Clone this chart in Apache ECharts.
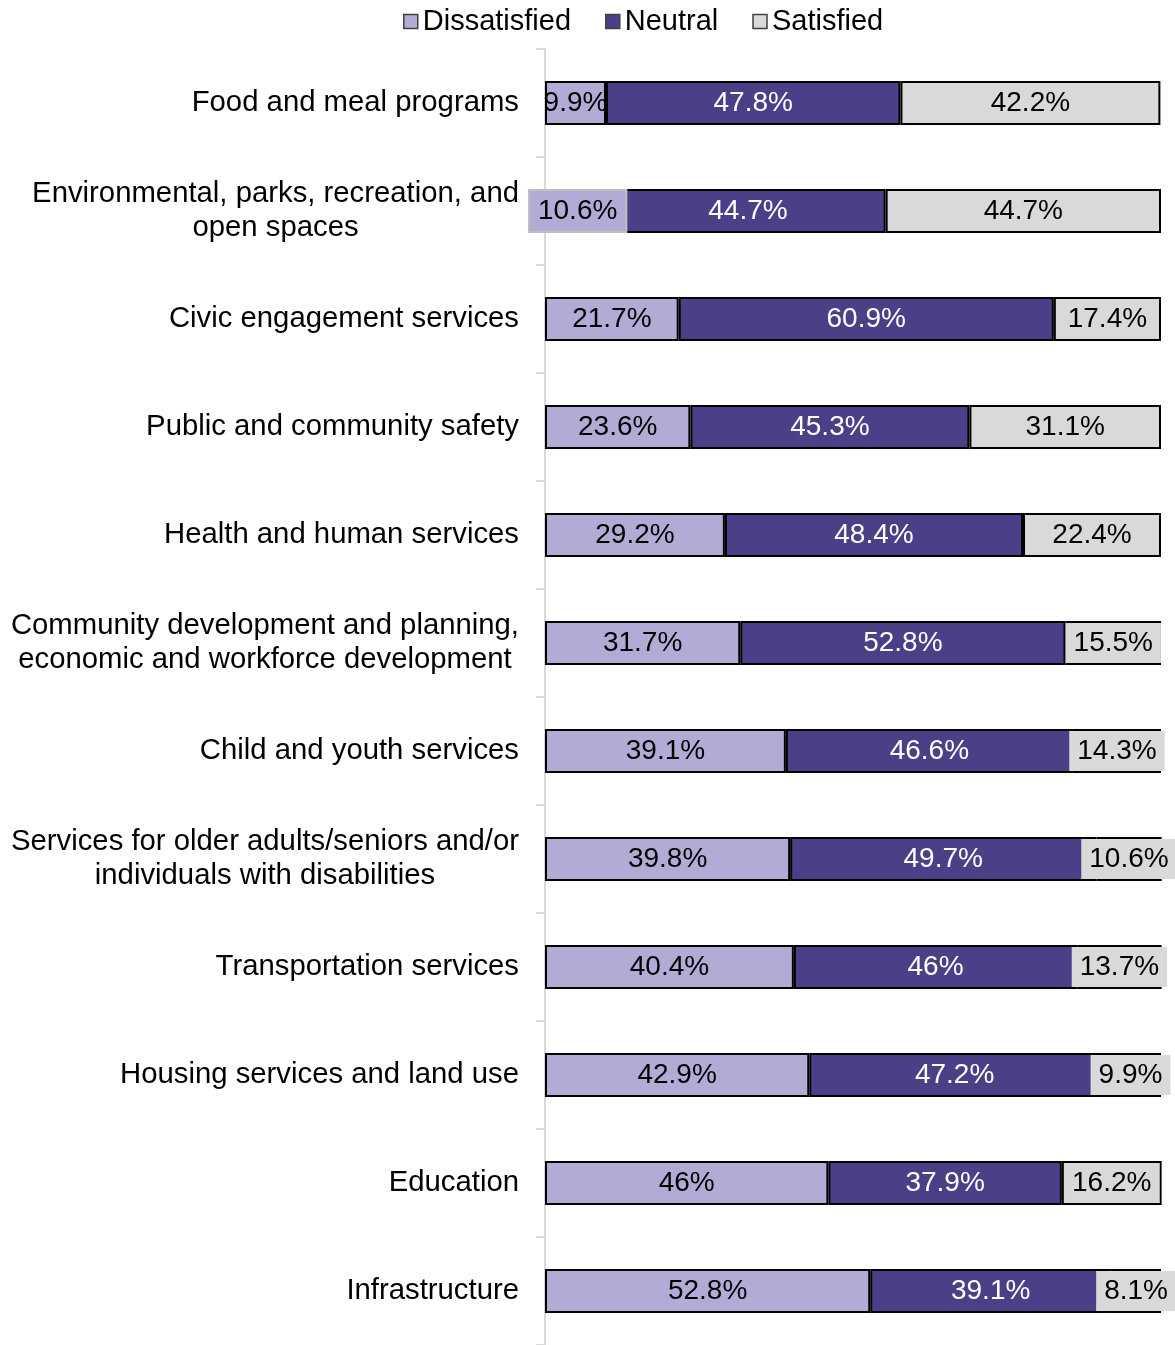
<!DOCTYPE html>
<html>
<head>
<meta charset="utf-8">
<script src="https://cdn.jsdelivr.net/npm/echarts@6/dist/echarts.min.js"></script>
<style>
  html, body { margin: 0; padding: 0; background: #fff; }
  #chart { width: 1175px; height: 1345px; }
</style>
</head>
<body>
<div id="chart"></div>
<script>
// Service satisfaction by area (percent of respondents)
const categories = [
  'Food and meal programs',
  'Environmental, parks, recreation, and\nopen spaces',
  'Civic engagement services',
  'Public and community safety',
  'Health and human services',
  'Community development and planning,\neconomic and workforce development',
  'Child and youth services',
  'Services for older adults/seniors and/or\nindividuals with disabilities',
  'Transportation services',
  'Housing services and land use',
  'Education',
  'Infrastructure'
];
const dissatisfied = [9.9, 10.6, 21.7, 23.6, 29.2, 31.7, 39.1, 39.8, 40.4, 42.9, 46, 52.8];
const neutral      = [47.8, 44.7, 60.9, 45.3, 48.4, 52.8, 46.6, 49.7, 46, 47.2, 37.9, 39.1];
const satisfied    = [42.2, 44.7, 17.4, 31.1, 22.4, 15.5, 14.3, 10.6, 13.7, 9.9, 16.2, 8.1];

const FONT = '"Liberation Sans", Arial, sans-serif';
const colors = { dis: '#b3abd6', neu: '#4b3f87', sat: '#d9d9d9' };

function labelStyle(bg, textColor) {
  return {
    show: true,
    position: 'inside',
    formatter: p => p.value + '%',
    fontFamily: FONT,
    fontSize: 28,
    lineHeight: 32,
    color: textColor,
    backgroundColor: bg,
    padding: [4, 8]
  };
}

// a few labels get their own box treatment
const disLabelOverrides = {
  0: { backgroundColor: 'transparent', padding: [4, 0] },
  1: { borderColor: '#bfbfbf', borderWidth: 2 }
};

function buildData(values, overrides) {
  return values.map((v, i) => overrides && overrides[i]
    ? { value: v, label: overrides[i] }
    : v);
}

const barCommon = {
  type: 'bar',
  stack: 'total',
  barWidth: 44,
  itemStyle: { borderColor: '#000', borderWidth: 2 },
  emphasis: { disabled: true }
};

const chart = echarts.init(document.getElementById('chart'));
chart.setOption({
  animation: false,
  legend: {
    top: 2,
    left: 398,
    icon: 'rect',
    itemWidth: 14,
    itemHeight: 14,
    itemGap: 34,
    itemStyle: { borderColor: '#404040', borderWidth: 1.5 },
    textStyle: { fontFamily: FONT, fontSize: 29, color: '#000' },
    data: ['Dissatisfied', 'Neutral', 'Satisfied']
  },
  grid: { left: 545, right: 14, top: 49, bottom: -3 },
  xAxis: { type: 'value', min: 0, max: 100, show: false },
  yAxis: {
    type: 'category',
    inverse: true,
    data: categories,
    axisLine: { show: true, lineStyle: { color: '#d9d9d9', width: 2 } },
    axisTick: { show: true, length: 9, lineStyle: { color: '#d9d9d9', width: 2 } },
    axisLabel: {
      margin: 26,
      fontFamily: FONT,
      fontSize: 29.3,
      color: '#000',
      formatter: v => v.split('\n').map(s => '{c|' + s + '}').join('\n'),
      rich: {
        c: { align: 'center', fontFamily: FONT, fontSize: 29.3, lineHeight: 33.5, color: '#000' }
      }
    }
  },
  series: [
    Object.assign({}, barCommon, {
      name: 'Dissatisfied',
      data: buildData(dissatisfied, disLabelOverrides),
      itemStyle: Object.assign({}, barCommon.itemStyle, { color: colors.dis }),
      label: labelStyle(colors.dis, '#000')
    }),
    Object.assign({}, barCommon, {
      name: 'Neutral',
      data: buildData(neutral),
      itemStyle: Object.assign({}, barCommon.itemStyle, { color: colors.neu }),
      label: labelStyle(colors.neu, '#fff')
    }),
    Object.assign({}, barCommon, {
      name: 'Satisfied',
      data: buildData(satisfied),
      itemStyle: Object.assign({}, barCommon.itemStyle, { color: colors.sat }),
      label: labelStyle(colors.sat, '#000')
    })
  ]
});
</script>
</body>
</html>
